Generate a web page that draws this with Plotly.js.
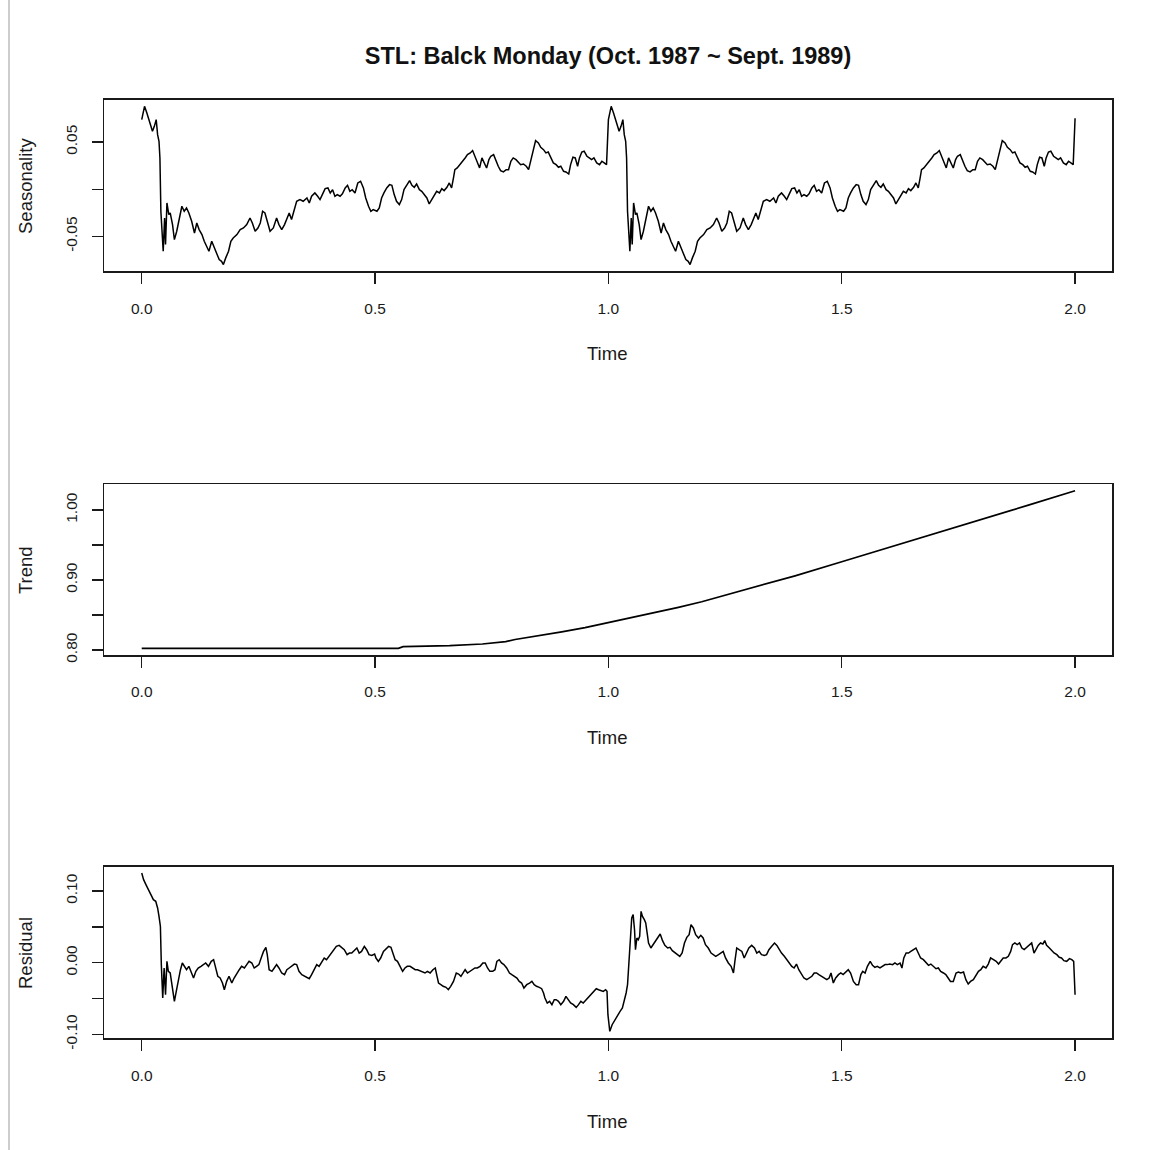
<!DOCTYPE html>
<html>
<head>
<meta charset="utf-8">
<script src="https://cdn.plot.ly/plotly-3.0.1.min.js"></script>
<style>html,body{margin:0;padding:0;background:#fff;}#chart{width:1156px;height:1150px;}</style>
</head>
<body>
<div id="chart"></div>
<script>
// ---------- DATA ----------
const chartTitle = "STL: Balck Monday (Oct. 1987 ~ Sept. 1989)";
const panelNames = ["Seasonality", "Trend", "Residual"];
const timeAxisName = "Time";
const timeTickValues = [0.0, 0.5, 1.0, 1.5, 2.0];
const timeTickLabels = ["0.0", "0.5", "1.0", "1.5", "2.0"];
const seasonTickValues = [-0.05, 0.0, 0.05];
const seasonTickLabels = ["-0.05", "", "0.05"];
const trendTickValues = [0.80, 0.85, 0.90, 0.95, 1.00];
const trendTickLabels = ["0.80", "", "0.90", "", "1.00"];
const residualTickValues = [-0.10, -0.05, 0.0, 0.05, 0.10];
const residualTickLabels = ["-0.10", "", "0.00", "", "0.10"];

// Seasonal component, first year
const seasonTimeY1 = [0.000,0.006,0.011,0.018,0.023,0.027,0.031,0.034,0.037,0.039,0.041,0.046,0.049,0.051,0.054,0.058,0.061,0.066,0.070,0.075,0.080,0.086,0.091,0.096,0.101,0.107,0.113,0.118,0.123,0.129,0.134,0.139,0.144,0.150,0.156,0.161,0.166,0.171,0.175,0.180,0.186,0.191,0.196,0.204,0.211,0.218,0.225,0.232,0.237,0.243,0.249,0.254,0.259,0.264,0.270,0.275,0.282,0.289,0.294,0.300,0.306,0.311,0.316,0.321,0.327,0.332,0.339,0.346,0.354,0.359,0.364,0.371,0.377,0.382,0.387,0.393,0.399,0.404,0.409,0.414,0.419,0.425,0.430,0.436,0.441,0.446,0.451,0.457,0.463,0.469,0.475,0.480,0.486,0.491,0.496,0.504,0.509,0.514,0.519,0.525,0.531,0.536,0.541,0.546,0.552,0.557,0.562,0.568,0.574,0.579,0.584,0.589,0.595,0.600,0.605,0.611,0.616,0.621,0.626,0.632,0.638,0.643,0.648,0.654,0.659,0.664,0.668,0.671,0.676,0.682,0.688,0.693,0.698,0.704,0.709,0.714,0.719,0.724,0.729,0.734,0.739,0.744,0.748,0.754,0.759,0.764,0.769,0.775,0.781,0.786,0.791,0.796,0.802,0.807,0.812,0.818,0.824,0.829,0.834,0.839,0.844,0.850,0.855,0.861,0.866,0.871,0.876,0.882,0.888,0.893,0.898,0.904,0.909,0.915,0.919,0.924,0.929,0.934,0.938,0.943,0.948,0.954,0.959,0.964,0.969,0.975,0.981,0.986,0.991,0.996];
const seasonValueY1 = [0.0738,0.0879,0.0809,0.0685,0.0614,0.0667,0.0738,0.0579,0.0508,0.0332,-0.0233,-0.0657,-0.0304,-0.0586,-0.0145,-0.0268,-0.0251,-0.0374,-0.0533,-0.0445,-0.0304,-0.0180,-0.0233,-0.0198,-0.0251,-0.0339,-0.0463,-0.0357,-0.0427,-0.0480,-0.0551,-0.0604,-0.0657,-0.0551,-0.0621,-0.0692,-0.0745,-0.0763,-0.0798,-0.0727,-0.0657,-0.0551,-0.0516,-0.0480,-0.0427,-0.0410,-0.0374,-0.0304,-0.0357,-0.0445,-0.0410,-0.0357,-0.0233,-0.0251,-0.0357,-0.0445,-0.0410,-0.0304,-0.0374,-0.0427,-0.0374,-0.0304,-0.0251,-0.0321,-0.0198,-0.0127,-0.0109,-0.0127,-0.0092,-0.0145,-0.0074,-0.0039,-0.0074,-0.0109,-0.0056,0.0007,0.0014,-0.0039,-0.0004,-0.0074,-0.0056,-0.0074,-0.0049,0.0014,0.0042,-0.0021,-0.0004,-0.0039,0.0067,0.0085,0.0014,-0.0092,-0.0180,-0.0233,-0.0215,-0.0233,-0.0198,-0.0092,-0.0039,0.0014,0.0049,0.0042,-0.0056,-0.0127,-0.0162,-0.0109,-0.0004,0.0042,0.0092,0.0042,0.0021,0.0056,-0.0004,-0.0021,-0.0056,-0.0092,-0.0155,-0.0109,-0.0064,-0.0021,-0.0039,0.0007,-0.0014,0.0021,0.0067,0.0014,0.0120,0.0208,0.0226,0.0261,0.0297,0.0332,0.0367,0.0385,0.0410,0.0350,0.0297,0.0226,0.0332,0.0279,0.0226,0.0314,0.0350,0.0367,0.0297,0.0244,0.0198,0.0184,0.0208,0.0208,0.0297,0.0332,0.0314,0.0290,0.0261,0.0268,0.0244,0.0208,0.0314,0.0438,0.0516,0.0491,0.0445,0.0420,0.0385,0.0395,0.0339,0.0279,0.0261,0.0233,0.0244,0.0191,0.0184,0.0162,0.0261,0.0339,0.0332,0.0244,0.0332,0.0395,0.0403,0.0350,0.0332,0.0314,0.0332,0.0279,0.0261,0.0297,0.0279,0.0261];

// Seasonal component, second year (same periodic pattern) and closing point
const seasonTimeY2 = [1.000,1.006,1.011,1.018,1.023,1.027,1.031,1.034,1.037,1.039,1.041,1.046,1.049,1.051,1.054,1.058,1.061,1.066,1.070,1.075,1.080,1.086,1.091,1.096,1.101,1.107,1.113,1.118,1.123,1.129,1.134,1.139,1.144,1.150,1.156,1.161,1.166,1.171,1.175,1.180,1.186,1.191,1.196,1.204,1.211,1.218,1.225,1.232,1.237,1.243,1.249,1.254,1.259,1.264,1.270,1.275,1.282,1.289,1.294,1.300,1.306,1.311,1.316,1.321,1.327,1.332,1.339,1.346,1.354,1.359,1.364,1.371,1.377,1.382,1.387,1.393,1.399,1.404,1.409,1.414,1.419,1.425,1.430,1.436,1.441,1.446,1.451,1.457,1.463,1.469,1.475,1.480,1.486,1.491,1.496,1.504,1.509,1.514,1.519,1.525,1.531,1.536,1.541,1.546,1.552,1.557,1.562,1.568,1.574,1.579,1.584,1.589,1.595,1.600,1.605,1.611,1.616,1.621,1.626,1.632,1.638,1.643,1.648,1.654,1.659,1.664,1.668,1.671,1.676,1.682,1.688,1.693,1.698,1.704,1.709,1.714,1.719,1.724,1.729,1.734,1.739,1.744,1.748,1.754,1.759,1.764,1.769,1.775,1.781,1.786,1.791,1.796,1.802,1.807,1.812,1.818,1.824,1.829,1.834,1.839,1.844,1.850,1.855,1.861,1.866,1.871,1.876,1.882,1.888,1.893,1.898,1.904,1.909,1.915,1.919,1.924,1.929,1.934,1.938,1.943,1.948,1.954,1.959,1.964,1.969,1.975,1.981,1.986,1.991,1.996,2.000];
const seasonValueY2 = [0.0738,0.0879,0.0809,0.0685,0.0614,0.0667,0.0738,0.0579,0.0508,0.0332,-0.0233,-0.0657,-0.0304,-0.0586,-0.0145,-0.0268,-0.0251,-0.0374,-0.0533,-0.0445,-0.0304,-0.0180,-0.0233,-0.0198,-0.0251,-0.0339,-0.0463,-0.0357,-0.0427,-0.0480,-0.0551,-0.0604,-0.0657,-0.0551,-0.0621,-0.0692,-0.0745,-0.0763,-0.0798,-0.0727,-0.0657,-0.0551,-0.0516,-0.0480,-0.0427,-0.0410,-0.0374,-0.0304,-0.0357,-0.0445,-0.0410,-0.0357,-0.0233,-0.0251,-0.0357,-0.0445,-0.0410,-0.0304,-0.0374,-0.0427,-0.0374,-0.0304,-0.0251,-0.0321,-0.0198,-0.0127,-0.0109,-0.0127,-0.0092,-0.0145,-0.0074,-0.0039,-0.0074,-0.0109,-0.0056,0.0007,0.0014,-0.0039,-0.0004,-0.0074,-0.0056,-0.0074,-0.0049,0.0014,0.0042,-0.0021,-0.0004,-0.0039,0.0067,0.0085,0.0014,-0.0092,-0.0180,-0.0233,-0.0215,-0.0233,-0.0198,-0.0092,-0.0039,0.0014,0.0049,0.0042,-0.0056,-0.0127,-0.0162,-0.0109,-0.0004,0.0042,0.0092,0.0042,0.0021,0.0056,-0.0004,-0.0021,-0.0056,-0.0092,-0.0155,-0.0109,-0.0064,-0.0021,-0.0039,0.0007,-0.0014,0.0021,0.0067,0.0014,0.0120,0.0208,0.0226,0.0261,0.0297,0.0332,0.0367,0.0385,0.0410,0.0350,0.0297,0.0226,0.0332,0.0279,0.0226,0.0314,0.0350,0.0367,0.0297,0.0244,0.0198,0.0184,0.0208,0.0208,0.0297,0.0332,0.0314,0.0290,0.0261,0.0268,0.0244,0.0208,0.0314,0.0438,0.0516,0.0491,0.0445,0.0420,0.0385,0.0395,0.0339,0.0279,0.0261,0.0233,0.0244,0.0191,0.0184,0.0162,0.0261,0.0339,0.0332,0.0244,0.0332,0.0395,0.0403,0.0350,0.0332,0.0314,0.0332,0.0279,0.0261,0.0297,0.0279,0.0261,0.0752];

// Trend component
const trendTime = [0.0,0.2,0.4,0.55,0.56,0.66,0.73,0.78,0.8,0.85,0.9,0.95,1.0,1.05,1.1,1.15,1.2,1.25,1.3,1.4,1.5,1.6,1.7,1.8,1.9,2.0];
const trendValue = [0.8024,0.8024,0.8024,0.8024,0.8047,0.8062,0.8086,0.8119,0.8150,0.8200,0.8260,0.8320,0.8390,0.8460,0.8530,0.8610,0.8690,0.8780,0.8870,0.9060,0.9260,0.9460,0.9660,0.9870,1.0070,1.0276];

// Remainder component
const residualTime = [0.000,0.004,0.009,0.014,0.020,0.025,0.030,0.034,0.037,0.040,0.042,0.045,0.048,0.051,0.054,0.057,0.061,0.066,0.070,0.074,0.079,0.083,0.087,0.091,0.096,0.101,0.107,0.111,0.116,0.121,0.127,0.132,0.137,0.143,0.149,0.154,0.159,0.163,0.168,0.173,0.177,0.182,0.187,0.193,0.198,0.204,0.209,0.214,0.220,0.225,0.230,0.236,0.241,0.246,0.251,0.257,0.261,0.266,0.269,0.273,0.279,0.284,0.289,0.294,0.300,0.306,0.311,0.316,0.321,0.327,0.332,0.337,0.343,0.349,0.354,0.359,0.364,0.370,0.375,0.380,0.386,0.391,0.396,0.401,0.407,0.412,0.417,0.423,0.429,0.434,0.440,0.445,0.450,0.456,0.461,0.466,0.471,0.477,0.482,0.487,0.493,0.499,0.502,0.507,0.512,0.518,0.524,0.529,0.534,0.538,0.543,0.548,0.554,0.559,0.564,0.569,0.575,0.581,0.586,0.591,0.596,0.602,0.607,0.612,0.618,0.624,0.629,0.632,0.636,0.641,0.646,0.652,0.657,0.662,0.668,0.674,0.679,0.684,0.688,0.693,0.698,0.704,0.709,0.714,0.719,0.725,0.731,0.736,0.741,0.746,0.752,0.757,0.761,0.766,0.771,0.776,0.782,0.788,0.793,0.798,0.804,0.809,0.814,0.819,0.825,0.831,0.836,0.841,0.846,0.852,0.857,0.861,0.864,0.869,0.874,0.879,0.884,0.888,0.893,0.898,0.904,0.909,0.914,0.919,0.925,0.931,0.936,0.941,0.946,0.952,0.957,0.962,0.968,0.974,0.979,0.984,0.989,0.994,0.997,0.999,1.003,1.008,1.014,1.020,1.025,1.030,1.034,1.038,1.041,1.044,1.047,1.050,1.053,1.056,1.058,1.061,1.064,1.067,1.070,1.073,1.077,1.080,1.083,1.086,1.091,1.096,1.101,1.107,1.111,1.116,1.121,1.127,1.132,1.137,1.143,1.148,1.153,1.158,1.163,1.168,1.173,1.177,1.182,1.187,1.193,1.198,1.203,1.208,1.214,1.220,1.225,1.230,1.236,1.241,1.246,1.251,1.257,1.263,1.268,1.271,1.275,1.280,1.286,1.291,1.296,1.301,1.307,1.313,1.318,1.323,1.328,1.334,1.339,1.344,1.350,1.356,1.361,1.366,1.371,1.377,1.382,1.387,1.393,1.398,1.403,1.408,1.414,1.419,1.425,1.430,1.436,1.441,1.446,1.451,1.457,1.463,1.468,1.473,1.477,1.482,1.487,1.493,1.498,1.503,1.509,1.514,1.519,1.525,1.531,1.536,1.541,1.545,1.550,1.555,1.561,1.566,1.571,1.576,1.582,1.588,1.593,1.598,1.603,1.609,1.614,1.619,1.625,1.629,1.633,1.638,1.643,1.648,1.653,1.659,1.664,1.669,1.675,1.681,1.686,1.691,1.696,1.702,1.707,1.712,1.718,1.723,1.728,1.733,1.739,1.745,1.750,1.755,1.761,1.766,1.771,1.776,1.782,1.788,1.793,1.798,1.803,1.809,1.814,1.819,1.825,1.831,1.836,1.841,1.846,1.852,1.857,1.862,1.866,1.871,1.876,1.881,1.886,1.891,1.896,1.902,1.907,1.912,1.916,1.921,1.926,1.931,1.935,1.939,1.945,1.950,1.955,1.961,1.966,1.971,1.976,1.982,1.988,1.993,1.997,2.000];
const residualValue = [0.1252,0.1159,0.1090,0.1020,0.0950,0.0880,0.0857,0.0764,0.0647,0.0507,-0.0027,-0.0493,-0.0074,-0.0447,0.0019,-0.0121,-0.0144,-0.0354,-0.0540,-0.0400,-0.0214,-0.0098,-0.0004,-0.0051,-0.0098,-0.0051,-0.0167,-0.0214,-0.0121,-0.0074,-0.0051,-0.0027,-0.0004,-0.0051,0.0019,0.0042,-0.0074,-0.0190,-0.0214,-0.0284,-0.0377,-0.0261,-0.0190,-0.0284,-0.0214,-0.0144,-0.0098,-0.0051,-0.0074,-0.0027,0.0019,-0.0004,-0.0074,-0.0051,-0.0027,0.0088,0.0158,0.0214,0.0112,-0.0098,-0.0121,-0.0074,-0.0027,-0.0074,-0.0144,-0.0167,-0.0098,-0.0074,-0.0051,-0.0019,-0.0027,-0.0121,-0.0167,-0.0190,-0.0214,-0.0223,-0.0167,-0.0098,-0.0027,-0.0051,0.0019,0.0065,0.0042,0.0088,0.0135,0.0181,0.0228,0.0242,0.0214,0.0181,0.0112,0.0135,0.0135,0.0181,0.0205,0.0135,0.0158,0.0228,0.0181,0.0112,0.0102,0.0121,0.0065,0.0019,0.0065,0.0158,0.0205,0.0228,0.0214,0.0135,0.0042,0.0019,-0.0051,-0.0121,-0.0074,-0.0051,-0.0051,-0.0074,-0.0098,-0.0098,-0.0112,-0.0121,-0.0144,-0.0121,-0.0144,-0.0098,-0.0074,-0.0167,-0.0284,-0.0307,-0.0330,-0.0344,-0.0377,-0.0330,-0.0261,-0.0144,-0.0158,-0.0190,-0.0144,-0.0098,-0.0144,-0.0121,-0.0098,-0.0074,-0.0074,-0.0051,-0.0004,-0.0004,-0.0074,-0.0121,-0.0121,-0.0098,0.0019,0.0042,-0.0004,-0.0027,-0.0074,-0.0144,-0.0167,-0.0190,-0.0214,-0.0261,-0.0284,-0.0354,-0.0307,-0.0284,-0.0261,-0.0307,-0.0330,-0.0344,-0.0363,-0.0423,-0.0493,-0.0563,-0.0540,-0.0586,-0.0517,-0.0517,-0.0540,-0.0586,-0.0540,-0.0470,-0.0517,-0.0563,-0.0586,-0.0624,-0.0586,-0.0540,-0.0563,-0.0517,-0.0493,-0.0447,-0.0400,-0.0363,-0.0377,-0.0391,-0.0400,-0.0377,-0.0400,-0.0726,-0.0959,-0.0866,-0.0796,-0.0726,-0.0680,-0.0633,-0.0540,-0.0423,-0.0307,-0.0027,0.0298,0.0624,0.0671,0.0461,0.0182,0.0345,0.0321,0.0368,0.0717,0.0647,0.0601,0.0554,0.0415,0.0275,0.0205,0.0252,0.0298,0.0345,0.0401,0.0308,0.0242,0.0205,0.0214,0.0168,0.0135,0.0112,0.0089,0.0135,0.0275,0.0354,0.0391,0.0531,0.0485,0.0391,0.0345,0.0382,0.0345,0.0252,0.0205,0.0135,0.0112,0.0089,0.0112,0.0135,0.0158,0.0066,-0.0004,-0.0051,-0.0144,0.0019,0.0205,0.0182,0.0158,0.0066,0.0135,0.0205,0.0242,0.0205,0.0135,0.0158,0.0112,0.0102,0.0112,0.0182,0.0228,0.0275,0.0242,0.0182,0.0135,0.0089,0.0042,-0.0004,-0.0051,-0.0074,-0.0019,-0.0098,-0.0167,-0.0214,-0.0237,-0.0214,-0.0190,-0.0144,-0.0144,-0.0167,-0.0190,-0.0214,-0.0237,-0.0214,-0.0144,-0.0284,-0.0214,-0.0167,-0.0144,-0.0167,-0.0121,-0.0098,-0.0144,-0.0261,-0.0307,-0.0307,-0.0167,-0.0121,-0.0144,-0.0051,0.0019,-0.0037,-0.0065,-0.0051,-0.0074,-0.0051,-0.0027,-0.0027,-0.0019,-0.0027,-0.0004,-0.0027,-0.0004,-0.0074,0.0066,0.0135,0.0135,0.0158,0.0182,0.0205,0.0135,0.0066,0.0042,-0.0004,-0.0037,-0.0019,-0.0051,-0.0084,-0.0074,-0.0121,-0.0144,-0.0167,-0.0214,-0.0261,-0.0261,-0.0144,-0.0130,-0.0144,-0.0130,-0.0237,-0.0298,-0.0261,-0.0237,-0.0167,-0.0121,-0.0098,-0.0051,-0.0074,-0.0019,0.0066,0.0042,0.0019,-0.0019,0.0028,0.0066,0.0066,0.0089,0.0158,0.0252,0.0275,0.0252,0.0275,0.0205,0.0182,0.0214,0.0242,0.0275,0.0135,0.0182,0.0242,0.0275,0.0261,0.0308,0.0242,0.0205,0.0168,0.0135,0.0112,0.0075,0.0066,0.0028,0.0019,0.0056,0.0042,0.0019,-0.0447];

// ---------- CHART ----------
const W = 1156, H = 1150;
const FONT = "'Liberation Sans', Arial, Helvetica, sans-serif";
const INK = '#1a1a1a';
const xDomain = [104.4 / W, 1112.4 / W];
const yDom = (top, bottom) => [1 - bottom / H, 1 - top / H];

const lineStyle = {color: '#000', width: 1.5};
const seasonX = seasonTimeY1.concat(seasonTimeY2);
const seasonY = seasonValueY1.concat(seasonValueY2);

const traces = [
  {type: 'scatter', mode: 'lines', x: seasonX, y: seasonY, xaxis: 'x', yaxis: 'y', line: lineStyle, name: panelNames[0]},
  {type: 'scatter', mode: 'lines', x: trendTime, y: trendValue, xaxis: 'x2', yaxis: 'y2', line: {color: '#000', width: 1.7}, name: panelNames[1]},
  {type: 'scatter', mode: 'lines', x: residualTime, y: residualValue, xaxis: 'x3', yaxis: 'y3', line: lineStyle, name: panelNames[2]}
];

function xAxis(anchor) {
  return {
    anchor: anchor, domain: xDomain, range: [-0.08, 2.08],
    tickmode: 'array', tickvals: timeTickValues, ticktext: timeTickLabels,
    ticks: 'outside', ticklen: 11, tickwidth: 1.4, tickcolor: INK,
    showline: true, mirror: true, linecolor: INK, linewidth: 1.8,
    showgrid: false, zeroline: false, fixedrange: true,
    tickfont: {family: FONT, size: 15.5, color: INK}, ticklabelstandoff: 11,
    automargin: false
  };
}
function yAxis(anchor, domain, range, vals, labels) {
  return {
    anchor: anchor, domain: domain, range: range,
    tickmode: 'array', tickvals: vals, ticktext: labels, tickangle: -90,
    ticks: 'outside', ticklen: 11, tickwidth: 1.4, tickcolor: INK,
    showline: true, mirror: true, linecolor: INK, linewidth: 1.8,
    showgrid: false, zeroline: false, fixedrange: true,
    tickfont: {family: FONT, size: 15.5, color: INK}, ticklabelstandoff: 8,
    automargin: false
  };
}

// axis titles placed like R's mtext (line 3 below / left of each panel)
const axisTitleFont = {family: FONT, size: 18.5, color: INK};
const timeTitleY = [353, 737, 1121];
const panelCentreY = [186, 570, 953];
const annotations = [];
timeTitleY.forEach(function (py) {
  annotations.push({text: timeAxisName, xref: 'paper', yref: 'paper', x: 607 / W, y: 1 - py / H,
    xanchor: 'center', yanchor: 'middle', showarrow: false, font: axisTitleFont});
});
panelCentreY.forEach(function (py, i) {
  annotations.push({text: panelNames[i], xref: 'paper', yref: 'paper', x: 25 / W, y: 1 - py / H,
    xanchor: 'center', yanchor: 'middle', textangle: -90, showarrow: false, font: axisTitleFont});
});

const layout = {
  width: W, height: H,
  margin: {l: 0, r: 0, t: 0, b: 0},
  paper_bgcolor: '#fff', plot_bgcolor: '#fff',
  showlegend: false,
  font: {family: FONT, color: INK},
  title: {
    text: chartTitle, xref: 'paper', yref: 'paper',
    x: 608 / W, xanchor: 'center', y: 1 - 56 / H, yanchor: 'middle',
    font: {family: FONT, size: 23.5, weight: 'bold', color: '#111'}
  },
  xaxis: xAxis('y'),
  xaxis2: xAxis('y2'),
  xaxis3: xAxis('y3'),
  yaxis: yAxis('x', yDom(99.9, 271.1), [-0.0867, 0.0947], seasonTickValues, seasonTickLabels),
  yaxis2: yAxis('x2', yDom(484.4, 654.9), [0.793, 1.0366], trendTickValues, trendTickLabels),
  yaxis3: yAxis('x3', yDom(866.8, 1038.1), [-0.1053, 0.1339], residualTickValues, residualTickLabels),
  annotations: annotations,
  shapes: [
    {type: 'line', xref: 'paper', yref: 'paper', x0: 9 / W, x1: 9 / W, y0: 0, y1: 1, line: {color: '#bdbdbd', width: 1.5}}
  ]
};

Plotly.newPlot('chart', traces, layout, {staticPlot: true, displayModeBar: false});
</script>
</body>
</html>
